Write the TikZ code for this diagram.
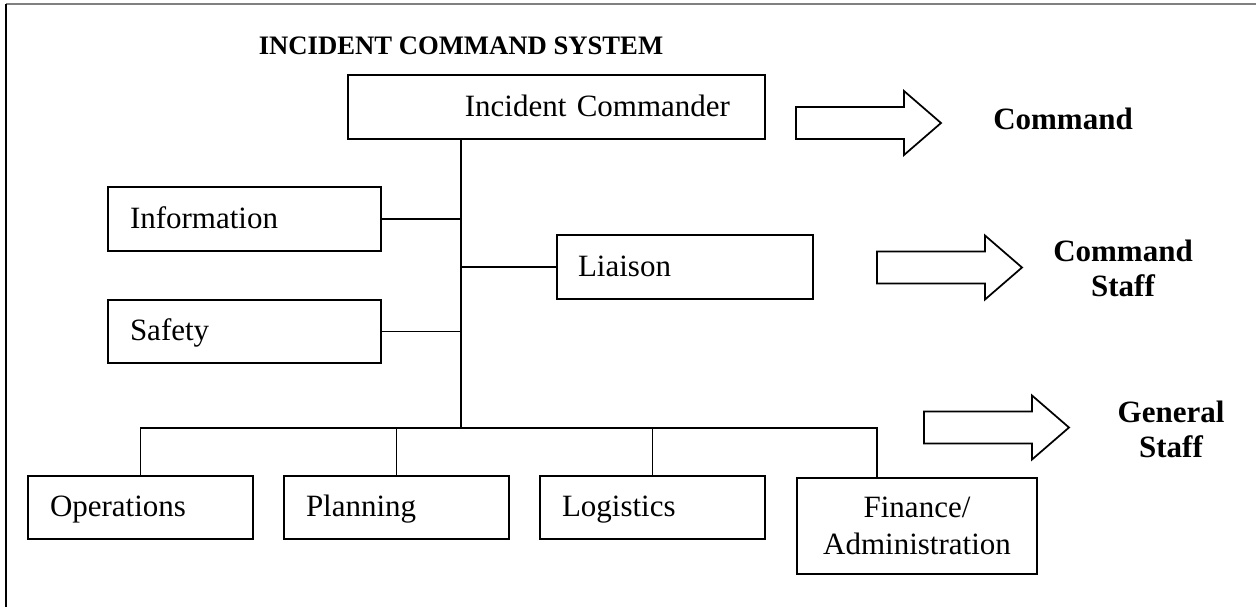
\documentclass[tikz,border=0pt]{standalone}
\usepackage{fontspec}
\setmainfont{Liberation Serif}
\newcommand{\bodyfont}{\fontsize{23.25}{27.75}\selectfont}
\newcommand{\lblfont}{\fontsize{23.25}{26.25}\selectfont\bfseries}
\begin{document}
\begin{tikzpicture}[x=0.75pt,y=-0.75pt,
  orgbox/.style={draw, line width=1.3pt, inner sep=0pt, font=\bodyfont, text height=16pt, text depth=2.5pt, align=left},
  wire/.style={line width=1.3pt},
  lbl/.style={font=\lblfont, align=center, inner sep=0pt},
  blockarr/.pic={\draw[line width=1.3pt, line join=miter] (0,-16) -- (108,-16) -- (108,-32) -- (145,0) -- (108,32) -- (108,16) -- (0,16) -- cycle;}
]
\useasboundingbox (0,0) rectangle (1256,607);
% frame
\draw[line width=1.5pt, gray] (6,4) -- (1256,4);
\draw[line width=1.5pt, black] (6,4) -- (6,607);

% title
\node[font=\fontsize{20}{24}\selectfont\bfseries, anchor=base, inner sep=0pt] (title) at (461,54) {INCIDENT COMMAND SYSTEM};

% boxes
\node[orgbox, minimum width=312.75pt, minimum height=48pt, text width=260.25pt, align=right] (ic) at (556.5,107) {Incident Commander};
\node[orgbox, minimum width=204.75pt, minimum height=48pt, text width=171.75pt] (info) at (244.5,219) {Information};
\node[orgbox, minimum width=204.75pt, minimum height=47.25pt, text width=171.75pt] (safety) at (244.5,331.5) {Safety};
\node[orgbox, minimum width=192pt, minimum height=48pt, text width=160.5pt] (liaison) at (685,267) {Liaison};
\node[orgbox, minimum width=168.75pt, minimum height=47.25pt, text width=135.75pt] (ops) at (140.5,507.5) {Operations};
\node[orgbox, minimum width=168.75pt, minimum height=47.25pt, text width=135.75pt] (plan) at (396.5,507.5) {Planning};
\node[orgbox, minimum width=168.75pt, minimum height=47.25pt, text width=135.75pt] (logi) at (652.5,507.5) {Logistics};
\node[draw, line width=1.3pt, inner sep=0pt, font=\fontsize{23.25}{27.75}\selectfont, align=center, minimum width=180pt, minimum height=72pt, text width=150pt] (fin) at (917,526) {Finance/\\Administration};

% connectors
\coordinate (trunk) at (461,428);
\coordinate (fdrop) at (877,428);
\draw[wire] (ic.south -| trunk) -- (trunk);
\draw[wire] (info.east) -- (info.east -| trunk);
\draw[wire] (safety.east) -- (safety.east -| trunk);
\draw[wire] (liaison.west) -- (liaison.west -| trunk);
\draw[wire] (ops.north) |- (fdrop) -- (fdrop |- fin.north);
\draw[wire] (plan.north) -- (plan.north |- trunk);
\draw[wire] (logi.north) -- (logi.north |- trunk);

% block arrows
\pic at (796,123) {blockarr};
\pic at (877,267.5) {blockarr};
\pic at (924,427.5) {blockarr};

% labels
\node[lbl] (lcmd) at (1063,119.3) {Command};
\node[lbl] (lcstaff) at (1123,268.8) {Command\\Staff};
\node[lbl] (lgstaff) at (1171,429) {General\\Staff};
\end{tikzpicture}
\end{document}
